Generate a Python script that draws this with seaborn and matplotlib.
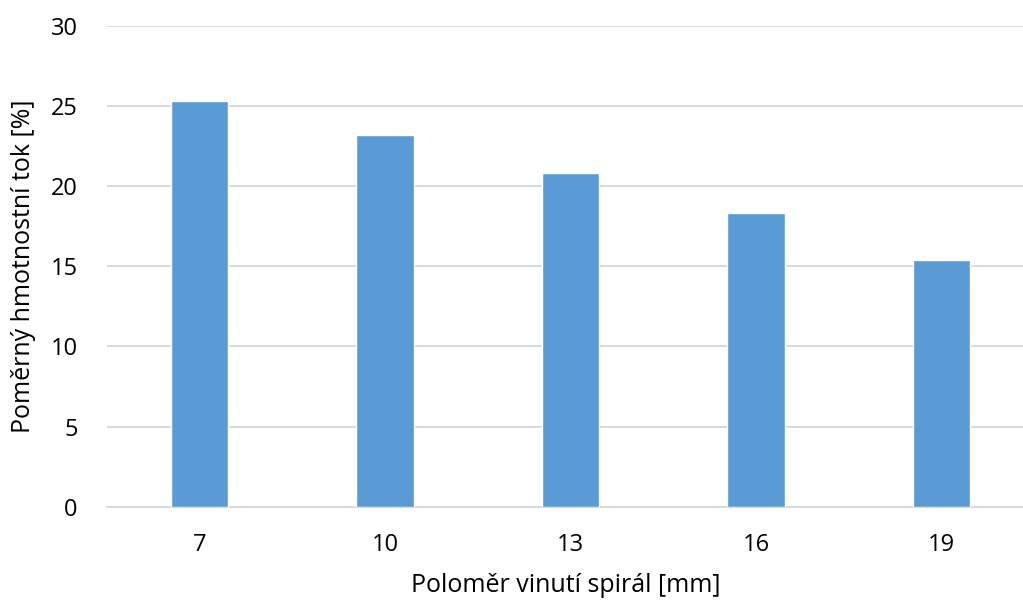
import matplotlib
matplotlib.use("Agg")
import matplotlib.pyplot as plt
import seaborn as sns
import pandas as pd

# Coil winding radius [mm] and relative mass flow [%]
radius_labels = ["7", "10", "13", "16", "19"]
mass_flow = [25.3, 23.2, 20.8, 18.3, 15.4]
y_ticks = [0, 5, 10, 15, 20, 25, 30]

df = pd.DataFrame({"radius": radius_labels, "flow": mass_flow})

sns.set_theme(style="white")
plt.rcParams["font.family"] = ["Open Sans", "DejaVu Sans"]

fig = plt.figure(figsize=(10.23, 6.01), dpi=100)
W, H = 1023, 601
left, right, top, bottom = 106.7, 1034.2, 26.0, 506.7
ax = fig.add_axes([left / W, 1 - bottom / H, (right - left) / W, (bottom - top) / H])

sns.barplot(data=df, x="radius", y="flow", order=radius_labels,
            color="#5b9bd5", saturation=1, width=0.31, ax=ax, zorder=3)

ax.set_ylim(0, 30)
ax.set_xlim(-0.5, 4.5)
ax.set_yticks(y_ticks)
ax.set_yticklabels([str(t) for t in y_ticks])
ax.yaxis.grid(True, color="#d9d9d9", linewidth=1.4, zorder=0)
ax.xaxis.grid(False)
for side in ["left", "right", "top"]:
    ax.spines[side].set_visible(False)
ax.spines["bottom"].set_color("#d9d9d9")
ax.spines["bottom"].set_linewidth(1.4)
ax.tick_params(axis="both", length=0, labelsize=17, colors="#000000")
ax.tick_params(axis="y", pad=21)
ax.tick_params(axis="x", pad=19)

ax.set_xlabel("Poloměr vinutí spirál [mm]", fontsize=18, color="#000000", va="center")
ax.set_ylabel("Poměrný hmotnostní tok [%]", fontsize=18, color="#000000", va="center")
ax.xaxis.set_label_coords((566 - left) / (right - left), -(585 - bottom) / (bottom - top))
ax.yaxis.set_label_coords(-(106.7 - 24) / (right - left), 0.5)

fig.savefig("out.png", dpi=100)
